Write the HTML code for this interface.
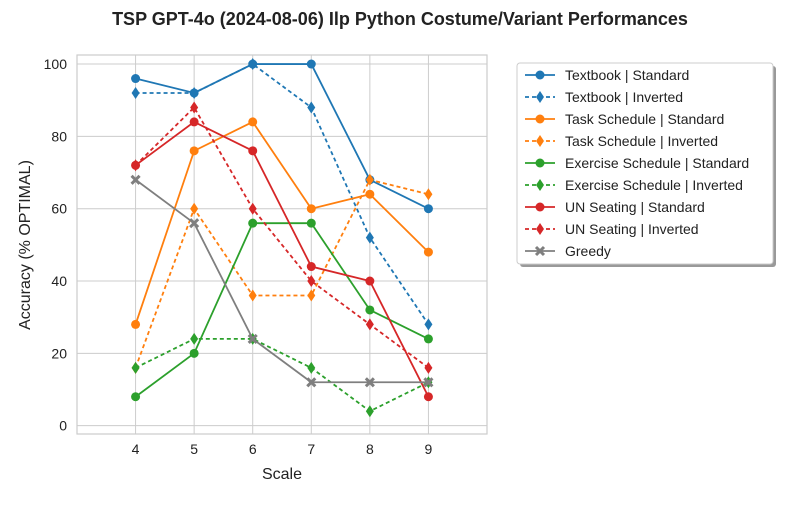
<!DOCTYPE html>
<html><head><meta charset="utf-8"><style>
body{margin:0;background:#fff;font-family:"Liberation Sans","DejaVu Sans",sans-serif;}
</style></head><body>
<svg id="chart" width="800" height="500" xmlns="http://www.w3.org/2000/svg" font-family="Liberation Sans, DejaVu Sans, sans-serif">
<text x="400" y="25" text-anchor="middle" font-size="18" font-weight="bold" fill="#222">TSP GPT-4o (2024-08-06) Ilp Python Costume/Variant Performances</text>
<g id="grid"></g><g id="series"></g><g id="legend"></g>
<text x="282" y="479" text-anchor="middle" font-size="16" fill="#222">Scale</text>
<text transform="translate(30,245) rotate(-90)" text-anchor="middle" font-size="16" fill="#222">Accuracy (% OPTIMAL)</text>
</svg>
<script>
const categories=[4,5,6,7,8,9];
const yTicks=[0,20,40,60,80,100];
const seriesNames=["Textbook | Standard","Textbook | Inverted","Task Schedule | Standard","Task Schedule | Inverted","Exercise Schedule | Standard","Exercise Schedule | Inverted","UN Seating | Standard","UN Seating | Inverted","Greedy"];
const textbookStd=[96,92,100,100,68,60];
const textbookInv=[92,92,100,88,52,28];
const taskStd=[28,76,84,60,64,48];
const taskInv=[16,60,36,36,68,64];
const exerciseStd=[8,20,56,56,32,24];
const exerciseInv=[16,24,24,16,4,12];
const unStd=[72,84,76,44,40,8];
const unInv=[72,88,60,40,28,16];
const greedy=[68,56,24,12,12,12];
const allSeries=[textbookStd,textbookInv,taskStd,taskInv,exerciseStd,exerciseInv,unStd,unInv,greedy];
const colors=["#1f77b4","#1f77b4","#ff7f0e","#ff7f0e","#2ca02c","#2ca02c","#d62728","#d62728","#7f7f7f"];
const markers=["o","d","o","d","o","d","o","d","x"];
const dashed=[false,true,false,true,false,true,false,true,false];
const L=77,R=487,T=55,B=434,x0=3,x1=10,y0=-2.3,y1=102.5;
const X=v=>L+(v-x0)/(x1-x0)*(R-L);
const Y=v=>B-(v-y0)/(y1-y0)*(B-T);
const NS="http://www.w3.org/2000/svg";
function mk(tag,attrs,parent){const e=document.createElementNS(NS,tag);for(const k in attrs)e.setAttribute(k,attrs[k]);parent.appendChild(e);return e;}
const grid=document.getElementById('grid');
categories.forEach(c=>{const l=mk('line',{x1:X(c),x2:X(c),y1:T,y2:B,stroke:'#cccccc','stroke-width':1},grid);

const t=mk('text',{x:X(c),y:B+20,'text-anchor':'middle','font-size':14,fill:'#222'},grid);t.textContent=c;
});
yTicks.forEach(v=>{const l=mk('line',{x1:L,x2:R,y1:Y(v),y2:Y(v),stroke:'#cccccc','stroke-width':1},grid);

const t=mk('text',{x:L-10,y:Y(v)+5,'text-anchor':'end','font-size':14,fill:'#222'},grid);t.textContent=v;
});
const fr=mk('rect',{x:L,y:T,width:R-L,height:B-T,fill:'none',stroke:'#cccccc','stroke-width':1.2},grid);

function marker(g,m,x,y,c){let e;
if(m==='o')e=mk('circle',{cx:x,cy:y,r:4.5,fill:c},g);
else if(m==='d')e=mk('polygon',{points:`${x},${y-6} ${x+4},${y} ${x},${y+6} ${x-4},${y}`,fill:c},g);
else e=mk('path',{d:`M${x-4},${y-4}L${x+4},${y+4}M${x+4},${y-4}L${x-4},${y+4}`,stroke:c,'stroke-width':3},g);
}
const sg=document.getElementById('series');
allSeries.forEach((s,i)=>{const g=mk('g',{},sg);

const p=mk('polyline',{points:s.map((v,j)=>X(categories[j])+','+Y(v)).join(' '),fill:'none',stroke:colors[i],'stroke-width':1.8,'stroke-dasharray':dashed[i]?'4,3':'none'},g);

s.forEach((v,j)=>marker(g,markers[i],X(categories[j]),Y(v),colors[i]));});
const lg=document.getElementById('legend');
const sh=mk('rect',{x:520,y:66,width:256,height:201,rx:3,fill:'#999'},lg);

const lb=mk('rect',{x:517,y:63,width:256,height:201,rx:3,fill:'#fff',stroke:'#ccc'},lg);

seriesNames.forEach((n,i)=>{const y=75+i*22;const g=mk('g',{},lg);

const l=mk('line',{x1:525,x2:555,y1:y,y2:y,stroke:colors[i],'stroke-width':1.8,'stroke-dasharray':dashed[i]?'4,3':'none'},g);

marker(g,markers[i],540,y,colors[i]);
const t=mk('text',{x:565,y:y+5,'font-size':14,fill:'#222'},g);t.textContent=n;
});
</script>
</body></html>
